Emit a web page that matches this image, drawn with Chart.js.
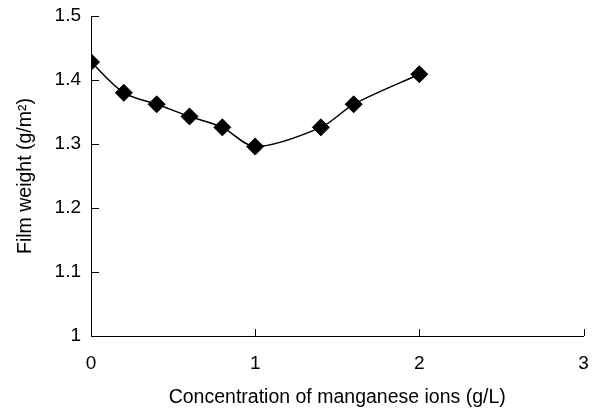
<!DOCTYPE html>
<html>
<head>
<meta charset="utf-8">
<title>Film weight vs manganese concentration</title>
<script src="https://cdn.jsdelivr.net/npm/chart.js@4.4.1/dist/chart.umd.min.js"></script>
<style>
  html, body { margin: 0; padding: 0; background: #fff; }
  canvas { display: block; }
</style>
</head>
<body>
<canvas id="chart" width="593" height="409"></canvas>
<script>
// Mn2+ concentration (g/L) and measured film weight (g/m2)
const concentrations = [0, 0.2, 0.4, 0.6, 0.8, 1.0, 1.4, 1.6, 2.0];
const filmWeights = [1.428, 1.38, 1.362, 1.343, 1.326, 1.296, 1.326, 1.362, 1.409];

const xTicks = [0, 1, 2, 3];
const yTicks = [1, 1.1, 1.2, 1.3, 1.4, 1.5];

const FONT = "'Liberation Sans', Arial, Helvetica, sans-serif";

// short tick marks pointing into the plot, like the old spreadsheet style
const innerTicks = {
  id: "innerTicks",
  afterDraw(chart) {
    const ctx = chart.ctx;
    const xs = chart.scales.x, ys = chart.scales.y;
    ctx.save();
    ctx.strokeStyle = "#000";
    ctx.lineWidth = 1;
    ctx.beginPath();
    xTicks.forEach(v => {
      const px = Math.round(xs.getPixelForValue(v)) + 0.5;
      ctx.moveTo(px, ys.bottom);
      ctx.lineTo(px, ys.bottom - 7);
    });
    yTicks.forEach(v => {
      const py = Math.round(ys.getPixelForValue(v)) + 0.5;
      ctx.moveTo(xs.left, py);
      ctx.lineTo(xs.left + 8, py);
    });
    ctx.stroke();
    ctx.restore();
  }
};

// keep the plot box fixed; label overhang is handled by the layout padding
function fixBox(s) {
  s.paddingTop = 0;
  s.paddingBottom = 0;
  s.paddingLeft = 0;
  s.paddingRight = 0;
}

new Chart(document.getElementById("chart"), {
  type: "scatter",
  data: {
    datasets: [{
      data: concentrations.map((c, i) => ({ x: c, y: filmWeights[i] })),
      showLine: true,
      borderColor: "#000",
      borderWidth: 1.5,
      tension: 0.3,
      pointStyle: "rectRot",
      pointRadius: 8.5,
      pointBackgroundColor: "#000",
      pointBorderColor: "#000",
      pointBorderWidth: 1
    }]
  },
  options: {
    responsive: false,
    animation: false,
    devicePixelRatio: 1,
    layout: { padding: { top: 16, right: 7, left: 0, bottom: 0 } },
    plugins: {
      legend: { display: false },
      tooltip: { enabled: false }
    },
    scales: {
      x: {
        type: "linear",
        min: 0,
        max: 3,
        afterBuildTicks: s => { s.ticks = xTicks.map(v => ({ value: v })); },
        afterFit: s => { s.height = 73; fixBox(s); },
        grid: { display: false, drawTicks: false },
        border: { display: true, color: "#000", width: 1 },
        ticks: {
          color: "#000",
          padding: 16,
          font: { family: FONT, size: 19 },
          callback: v => String(v)
        },
        title: {
          display: true,
          text: "Concentration of manganese ions (g/L)",
          color: "#000",
          font: { family: FONT, size: 19.5 },
          padding: { top: 0, bottom: 0 }
        }
      },
      y: {
        type: "linear",
        min: 1,
        max: 1.5,
        afterBuildTicks: s => { s.ticks = yTicks.map(v => ({ value: v })); },
        afterFit: s => { s.width = 91; fixBox(s); },
        grid: { display: false, drawTicks: false },
        border: { display: true, color: "#000", width: 1 },
        ticks: {
          color: "#000",
          padding: 10,
          font: { family: FONT, size: 19 },
          callback: v => String(Math.round(v * 10) / 10)
        },
        title: {
          display: true,
          text: "Film weight (g/m\u00b2)",
          color: "#000",
          font: { family: FONT, size: 19.5 },
          padding: { top: 14, bottom: 0 }
        }
      }
    }
  },
  plugins: [innerTicks]
});
</script>
</body>
</html>
